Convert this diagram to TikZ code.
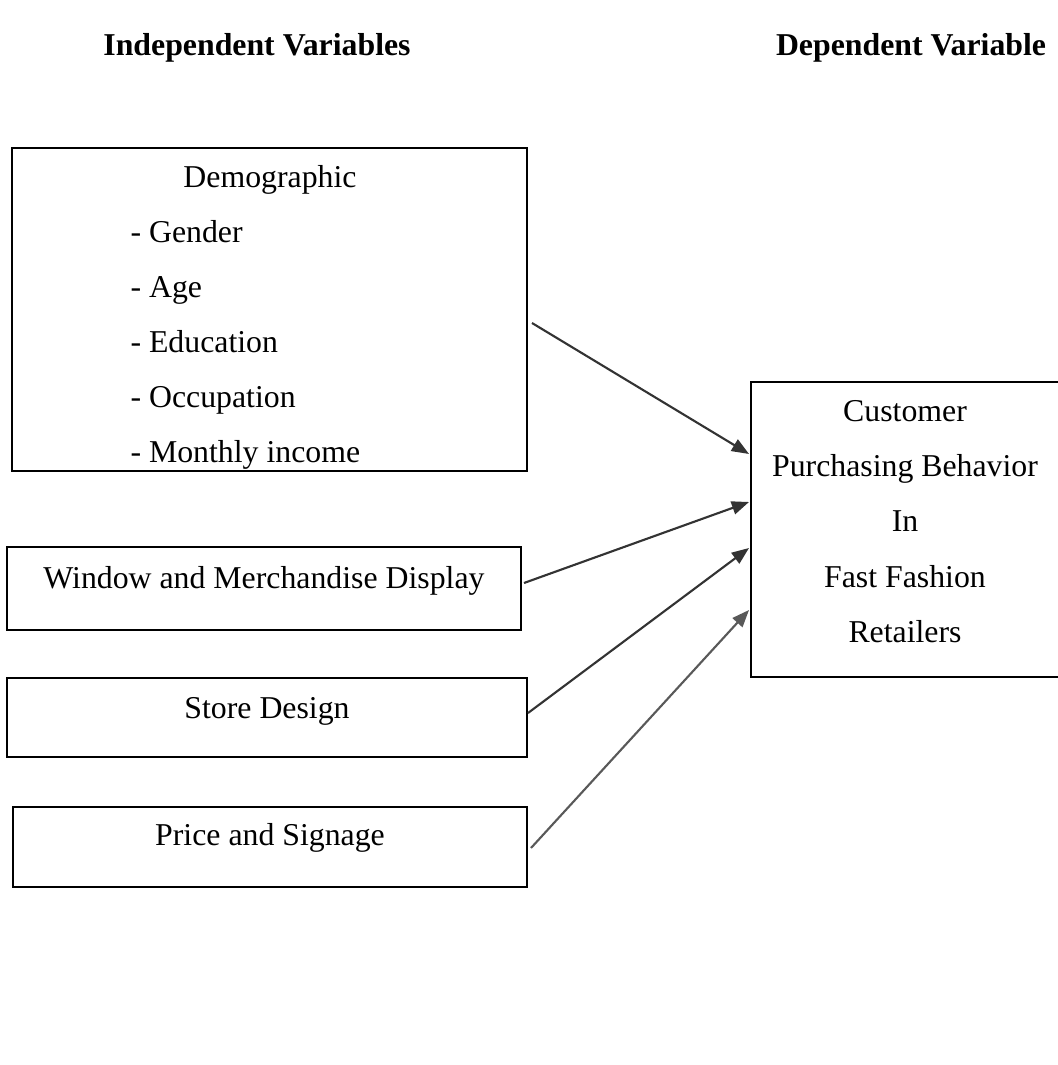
\documentclass[tikz,border=0pt]{standalone}
\usepackage{fontspec}
\setmainfont{Liberation Serif}
\usetikzlibrary{arrows.meta,calc,fit}
\begin{document}
\begin{tikzpicture}[x=0.3774pt, y=-0.3774pt]
        \tikzstyle{box}=[draw=black, line width=0.75pt, inner sep=0pt]
        \tikzstyle{box-text}=[font=\fontsize{12}{14}\selectfont, anchor=base, inner sep=0pt]
        \tikzstyle{heading}=[font=\fontsize{12}{14}\selectfont\bfseries, anchor=base, inner sep=0pt]
        \tikzstyle{influence}=[-{Triangle[length=6.5pt, width=5pt]}, line width=0.8pt, draw=black!80, fill=black!80]
        \useasboundingbox (0, 0) rectangle (1057, 1065);

        \node[heading] (indep-title) at (257, 56) {Independent Variables};
        \node[heading] (dep-title) at (911, 56) {Dependent Variable};

        % independent variables
        \node[box, fit={(12, 148) (527, 471)}] (demographic) {};
        \node[box-text] (demographic-title) at (270, 188) {Demographic};
        \foreach \attr [count=\i] in {Gender, Age, Education, Occupation, Monthly income}
            \node[box-text, anchor=base west] (demographic-\i) at (130, 188+55*\i) {- \attr};

        \node[box, fit={(7, 547) (521, 630)}] (window) {};
        \node[box-text] (window-text) at (264, 588) {Window and Merchandise Display};
        \node[box, fit={(7, 678) (527, 757)}] (store) {};
        \node[box-text] (store-text) at (267, 718) {Store Design};
        \node[box, fit={(13, 807) (527, 887)}] (price) {};
        \node[box-text] (price-text) at (270, 845) {Price and Signage};

        % dependent variable
        \node[box, fit={(751, 382) (1060, 677)}] (customer) {};
        \foreach \line [count=\i from 0] in {Customer, Purchasing Behavior, In, Fast Fashion, Retailers}
            \node[box-text] (customer-\i) at (905, 422+55*\i) {\line};

        \draw[influence] ($(demographic.east)+(4, 13.5)$) -- ($(customer.west)+(-1, -75.5)$);
        \draw[influence] ($(window.east)+(2, -5.5)$) -- ($(customer.west)+(-1, -27.5)$);
        \draw[influence] ($(store.east)+(0, -4.5)$) -- ($(customer.west)+(-1, 18.5)$);
        \draw[influence, draw=black!65, fill=black!65] ($(price.east)+(3, 1)$) -- ($(customer.west)+(-1, 80.5)$);

    \end{tikzpicture}
\end{document}
